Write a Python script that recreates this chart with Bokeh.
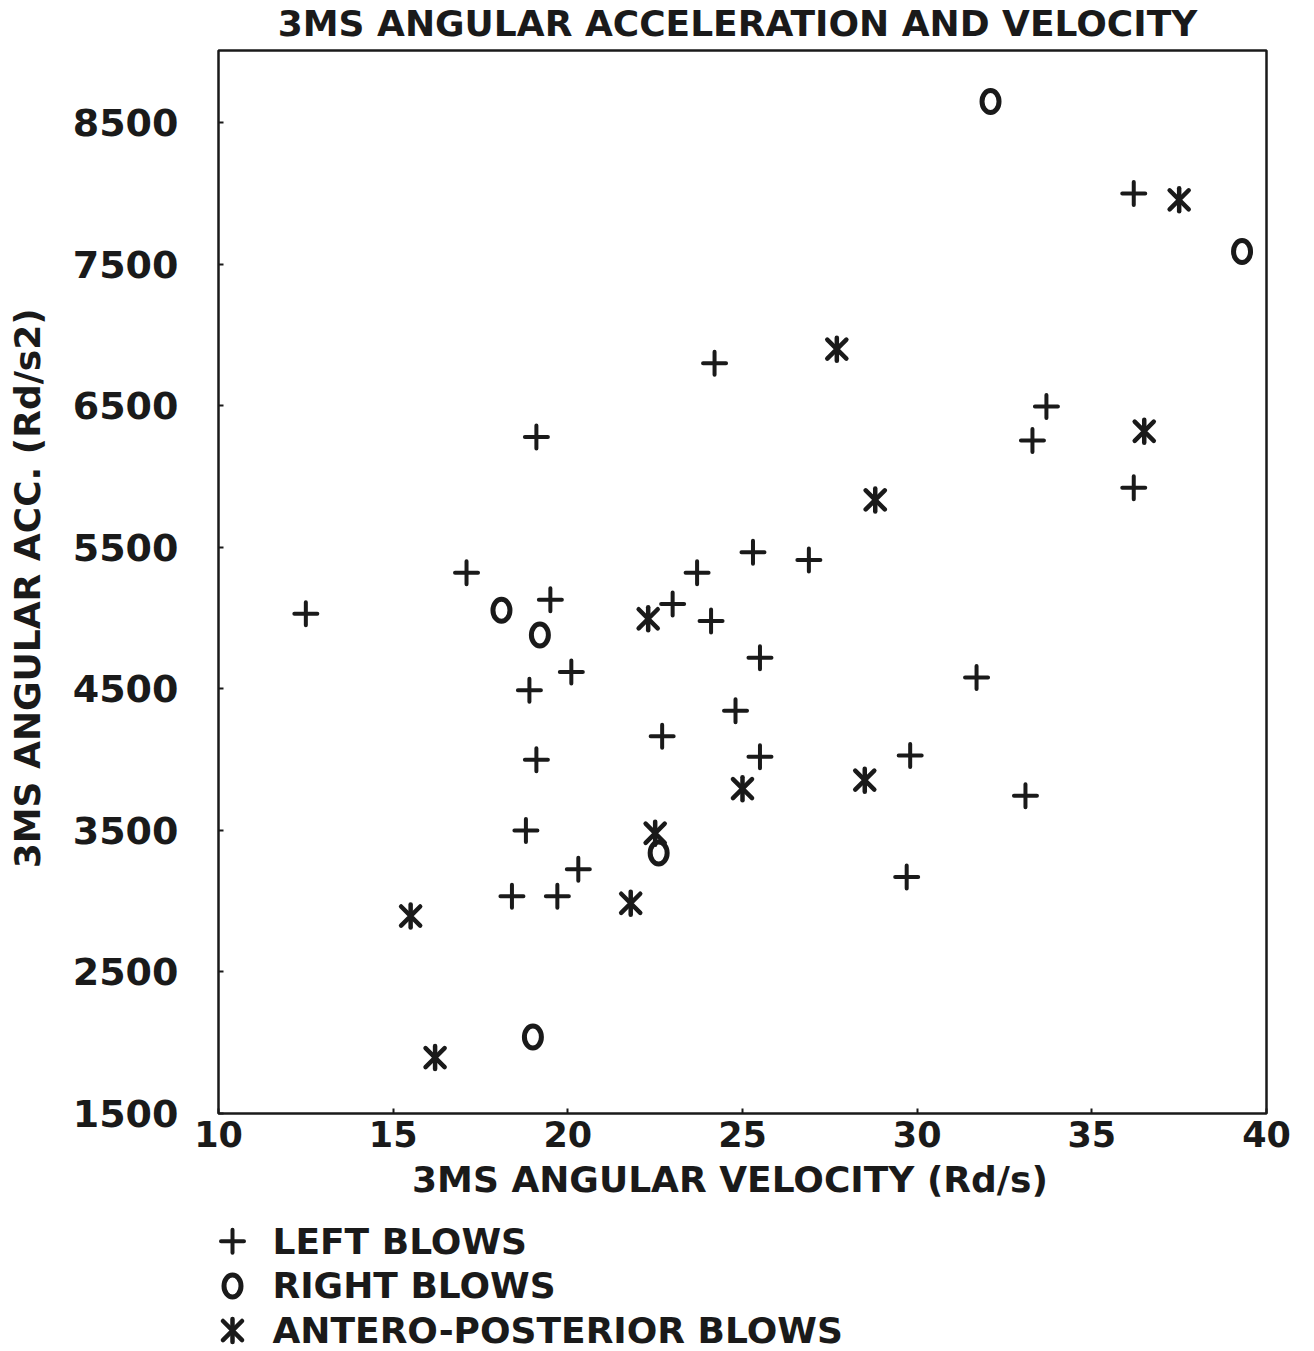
import numpy as np
from bokeh.plotting import figure
from bokeh.layouts import column
from bokeh.models import Range1d, FixedTicker
from bokeh.core.properties import value
from bokeh.embed import file_html
from bokeh.resources import INLINE

# ---------------- data ----------------
TITLE = "3MS ANGULAR ACCELERATION AND VELOCITY"
X_LABEL = "3MS  ANGULAR VELOCITY  (Rd/s)"
Y_LABEL = "3MS ANGULAR ACC.  (Rd/s2)"
x_ticks = [10, 15, 20, 25, 30, 35, 40]
y_ticks = [1500, 2500, 3500, 4500, 5500, 6500, 7500, 8500]

left_x = [12.5, 17.1, 19.1, 19.5, 18.9, 20.1, 19.1, 18.8, 18.4, 19.7, 20.3,
          22.7, 23.0, 23.7, 24.1, 24.2, 25.3, 24.8, 25.5, 25.5, 26.9, 29.7,
          29.8, 31.7, 33.1, 33.3, 33.7, 36.2, 36.2]
left_y = [5030, 5320, 6280, 5130, 4490, 4620, 4000, 3500, 3035, 3035, 3225,
          4165, 5100, 5320, 4980, 6800, 5465, 4345, 4720, 4020, 5410, 3170,
          4030, 4580, 3745, 6255, 6495, 5920, 8000]

right_x = [32.1, 39.3, 18.1, 19.2, 22.6, 19.0]
right_y = [8650, 7590, 5055, 4880, 3340, 2040]

ap_x = [37.5, 27.7, 36.5, 28.8, 22.3, 25.0, 28.5, 22.5, 21.8, 15.5, 16.2]
ap_y = [7955, 6900, 6320, 5835, 4995, 3795, 3855, 3480, 2985, 2895, 1895]

legend_labels = ["LEFT BLOWS", "RIGHT BLOWS", "ANTERO-POSTERIOR BLOWS"]

# ---------------- style / layout ----------------
FONT = "DejaVu Sans"
FS = "36px"
INK = "#1a1a1a"
W = 1314
TITLE_H, MAIN_H = 46, 1169
LEG_H = 1351 - TITLE_H - MAIN_H
BORDER_L, BORDER_R = 218, 48
FRAME_W = W - BORDER_L - BORDER_R

def plus(fig, x, y):
    return fig.scatter(x, y, marker="cross", size=23, line_color=INK,
                       line_width=4, line_cap="round")

def oh(fig, x, y):
    return fig.ellipse(x, y, width=17, height=22, width_units="screen",
                       height_units="screen", fill_color=None,
                       line_color=INK, line_width=5)

def star(fig, x, y):
    a = fig.scatter(x, y, marker="x", size=27, line_color=INK,
                    line_width=4.5, line_cap="round")
    b = fig.scatter(x, y, marker="dash", angle=np.pi / 2, size=23,
                    line_color=INK, line_width=4.5, line_cap="round")
    return [a, b]

def strip(height, yr):
    f = figure(width=W, height=height, output_backend="svg", toolbar_location=None,
               x_range=Range1d(0, FRAME_W), y_range=Range1d(*yr),
               min_border_left=BORDER_L, min_border_right=BORDER_R,
               min_border_top=0, min_border_bottom=0,
               x_axis_type=None, y_axis_type=None)
    f.grid.visible = False
    f.outline_line_color = None
    return f

# ---------------- title strip ----------------
tf = strip(TITLE_H, (0, TITLE_H))
tf.text([737 - BORDER_L], [TITLE_H - 23], text=[TITLE], text_font=value(FONT),
        text_font_size=FS, text_font_style="bold", text_color=INK,
        text_align="center", text_baseline="middle")

# ---------------- main plot ----------------
p = figure(width=W, height=MAIN_H, output_backend="svg", toolbar_location=None,
           x_range=Range1d(10, 40), y_range=Range1d(1500, 9010),
           min_border_left=BORDER_L, min_border_right=BORDER_R,
           min_border_top=4, min_border_bottom=102)

p.grid.visible = False
p.outline_line_color = INK
p.outline_line_width = 2.5

p.xaxis.ticker = FixedTicker(ticks=x_ticks)
p.yaxis.ticker = FixedTicker(ticks=y_ticks)
for ax in (p.xaxis, p.yaxis):
    ax.axis_line_color = None
    ax.major_tick_in = 5
    ax.major_tick_out = 0
    ax.major_tick_line_width = 2
    ax.major_tick_line_color = INK
    ax.minor_tick_line_color = None
    ax.major_label_text_font = FONT
    ax.major_label_text_font_style = "bold"
    ax.major_label_text_color = INK
    ax.axis_label_text_font = FONT
    ax.axis_label_text_font_size = FS
    ax.axis_label_text_font_style = "bold"
    ax.axis_label_text_color = INK

p.xaxis.axis_label = X_LABEL
p.yaxis.axis_label = Y_LABEL
p.xaxis.major_label_text_font_size = "35px"
p.yaxis.major_label_text_font_size = "38px"
p.xaxis.major_label_standoff = 7
p.yaxis.major_label_standoff = 40
p.xaxis.axis_label_standoff = 9
p.yaxis.axis_label_standoff = 22

plus(p, left_x, left_y)
oh(p, right_x, right_y)
star(p, ap_x, ap_y)

# ---------------- legend (drawn below the plot) ----------------
rows = [-i for i in range(len(legend_labels))]
leg = strip(LEG_H, (-2.47, 0.58))
sym_x = 14
plus(leg, [sym_x], [rows[0]])
oh(leg, [sym_x], [rows[1]])
star(leg, [sym_x], [rows[2]])
leg.text([54] * len(rows), rows, text=legend_labels, text_font=value(FONT),
         text_font_size=FS, text_font_style="bold", text_color=INK,
         text_align="left", text_baseline="middle")

layout = column(tf, p, leg, spacing=0)
open("out.html", "w").write(file_html(layout, INLINE))
